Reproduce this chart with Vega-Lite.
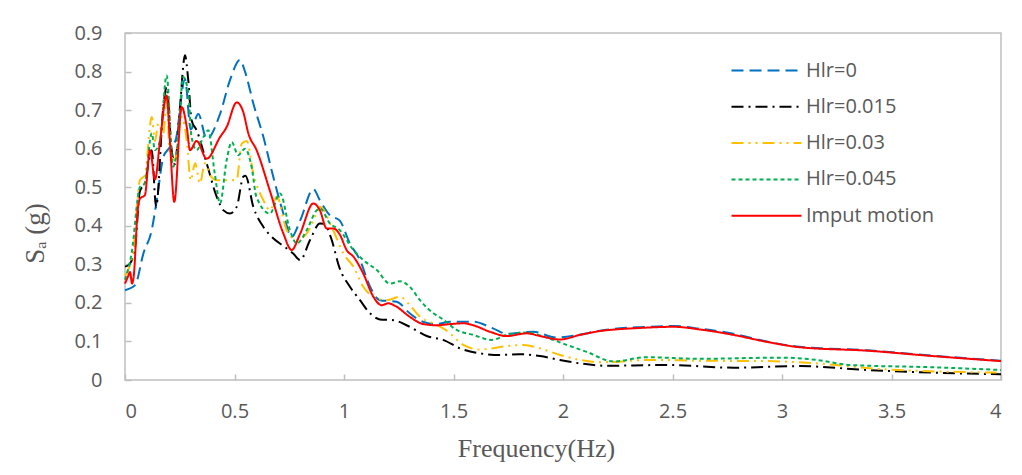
{
  "$schema": "https://vega.github.io/schema/vega-lite/v6.json",
  "autosize": "none",
  "width": 876,
  "height": 347,
  "padding": {"left": 125, "top": 33, "right": 21, "bottom": 95},
  "background": "white",
  "config": {
    "view": {"stroke": "#BFBFBF", "strokeWidth": 1.5},
    "axis": {"grid": false, "domain": false, "labelFont": "Open Sans", "labelFontSize": 20, "labelColor": "#595959", "tickColor": "#BFBFBF", "tickWidth": 1.5, "titleColor": "#595959", "titleFont": "Liberation Serif", "titleFontWeight": "normal"}
  },
  "data": {"values": [
    {"s":"Hlr=0","f":0,"v":0.233},{"s":"Hlr=0","f":0.046,"v":0.246},{"s":"Hlr=0","f":0.084,"v":0.328},{"s":"Hlr=0","f":0.122,"v":0.389},{"s":"Hlr=0","f":0.145,"v":0.466},{"s":"Hlr=0","f":0.175,"v":0.578},{"s":"Hlr=0","f":0.2,"v":0.6},{"s":"Hlr=0","f":0.23,"v":0.62},{"s":"Hlr=0","f":0.274,"v":0.78},{"s":"Hlr=0","f":0.3,"v":0.65},{"s":"Hlr=0","f":0.335,"v":0.69},{"s":"Hlr=0","f":0.373,"v":0.625},{"s":"Hlr=0","f":0.434,"v":0.69},{"s":"Hlr=0","f":0.479,"v":0.777},{"s":"Hlr=0","f":0.525,"v":0.83},{"s":"Hlr=0","f":0.548,"v":0.8},{"s":"Hlr=0","f":0.586,"v":0.717},{"s":"Hlr=0","f":0.632,"v":0.63},{"s":"Hlr=0","f":0.677,"v":0.527},{"s":"Hlr=0","f":0.723,"v":0.432},{"s":"Hlr=0","f":0.761,"v":0.371},{"s":"Hlr=0","f":0.8,"v":0.414},{"s":"Hlr=0","f":0.86,"v":0.495},{"s":"Hlr=0","f":0.89,"v":0.466},{"s":"Hlr=0","f":0.936,"v":0.427},{"s":"Hlr=0","f":0.98,"v":0.414},{"s":"Hlr=0","f":1.027,"v":0.354},{"s":"Hlr=0","f":1.073,"v":0.311},{"s":"Hlr=0","f":1.119,"v":0.242},{"s":"Hlr=0","f":1.164,"v":0.207},{"s":"Hlr=0","f":1.24,"v":0.203},{"s":"Hlr=0","f":1.3,"v":0.173},{"s":"Hlr=0","f":1.36,"v":0.151},{"s":"Hlr=0","f":1.42,"v":0.145},{"s":"Hlr=0","f":1.484,"v":0.151},{"s":"Hlr=0","f":1.59,"v":0.151},{"s":"Hlr=0","f":1.68,"v":0.134},{"s":"Hlr=0","f":1.743,"v":0.12},{"s":"Hlr=0","f":1.864,"v":0.125},{"s":"Hlr=0","f":1.97,"v":0.11},{"s":"Hlr=0","f":2.078,"v":0.118},{"s":"Hlr=0","f":2.169,"v":0.128},{"s":"Hlr=0","f":2.26,"v":0.134},{"s":"Hlr=0","f":2.352,"v":0.137},{"s":"Hlr=0","f":2.504,"v":0.14},{"s":"Hlr=0","f":2.626,"v":0.133},{"s":"Hlr=0","f":2.778,"v":0.12},{"s":"Hlr=0","f":2.93,"v":0.1},{"s":"Hlr=0","f":3.08,"v":0.086},{"s":"Hlr=0","f":3.39,"v":0.077},{"s":"Hlr=0","f":3.69,"v":0.063},{"s":"Hlr=0","f":4,"v":0.05},

    {"s":"Hlr=0.015","f":0,"v":0.294},{"s":"Hlr=0.015","f":0.02,"v":0.3},{"s":"Hlr=0.015","f":0.046,"v":0.345},{"s":"Hlr=0.015","f":0.068,"v":0.49},{"s":"Hlr=0.015","f":0.09,"v":0.51},{"s":"Hlr=0.015","f":0.122,"v":0.596},{"s":"Hlr=0.015","f":0.142,"v":0.449},{"s":"Hlr=0.015","f":0.175,"v":0.708},{"s":"Hlr=0.015","f":0.19,"v":0.76},{"s":"Hlr=0.015","f":0.213,"v":0.596},{"s":"Hlr=0.015","f":0.228,"v":0.56},{"s":"Hlr=0.015","f":0.251,"v":0.708},{"s":"Hlr=0.015","f":0.274,"v":0.842},{"s":"Hlr=0.015","f":0.289,"v":0.777},{"s":"Hlr=0.015","f":0.304,"v":0.674},{"s":"Hlr=0.015","f":0.327,"v":0.648},{"s":"Hlr=0.015","f":0.373,"v":0.562},{"s":"Hlr=0.015","f":0.419,"v":0.475},{"s":"Hlr=0.015","f":0.45,"v":0.44},{"s":"Hlr=0.015","f":0.479,"v":0.432},{"s":"Hlr=0.015","f":0.51,"v":0.449},{"s":"Hlr=0.015","f":0.54,"v":0.527},{"s":"Hlr=0.015","f":0.55,"v":0.53},{"s":"Hlr=0.015","f":0.586,"v":0.449},{"s":"Hlr=0.015","f":0.632,"v":0.397},{"s":"Hlr=0.015","f":0.67,"v":0.371},{"s":"Hlr=0.015","f":0.73,"v":0.345},{"s":"Hlr=0.015","f":0.768,"v":0.328},{"s":"Hlr=0.015","f":0.8,"v":0.311},{"s":"Hlr=0.015","f":0.845,"v":0.363},{"s":"Hlr=0.015","f":0.89,"v":0.406},{"s":"Hlr=0.015","f":0.91,"v":0.405},{"s":"Hlr=0.015","f":0.94,"v":0.37},{"s":"Hlr=0.015","f":0.98,"v":0.29},{"s":"Hlr=0.015","f":1.027,"v":0.242},{"s":"Hlr=0.015","f":1.073,"v":0.207},{"s":"Hlr=0.015","f":1.119,"v":0.173},{"s":"Hlr=0.015","f":1.164,"v":0.157},{"s":"Hlr=0.015","f":1.225,"v":0.155},{"s":"Hlr=0.015","f":1.3,"v":0.138},{"s":"Hlr=0.015","f":1.378,"v":0.114},{"s":"Hlr=0.015","f":1.453,"v":0.104},{"s":"Hlr=0.015","f":1.53,"v":0.082},{"s":"Hlr=0.015","f":1.62,"v":0.069},{"s":"Hlr=0.015","f":1.712,"v":0.065},{"s":"Hlr=0.015","f":1.8,"v":0.067},{"s":"Hlr=0.015","f":1.895,"v":0.062},{"s":"Hlr=0.015","f":1.986,"v":0.052},{"s":"Hlr=0.015","f":2.078,"v":0.043},{"s":"Hlr=0.015","f":2.2,"v":0.037},{"s":"Hlr=0.015","f":2.47,"v":0.039},{"s":"Hlr=0.015","f":2.78,"v":0.032},{"s":"Hlr=0.015","f":3.08,"v":0.036},{"s":"Hlr=0.015","f":3.39,"v":0.026},{"s":"Hlr=0.015","f":3.69,"v":0.019},{"s":"Hlr=0.015","f":4,"v":0.015},

    {"s":"Hlr=0.03","f":0,"v":0.27},{"s":"Hlr=0.03","f":0.038,"v":0.337},{"s":"Hlr=0.03","f":0.068,"v":0.518},{"s":"Hlr=0.03","f":0.09,"v":0.53},{"s":"Hlr=0.03","f":0.122,"v":0.682},{"s":"Hlr=0.03","f":0.137,"v":0.62},{"s":"Hlr=0.03","f":0.152,"v":0.665},{"s":"Hlr=0.03","f":0.175,"v":0.64},{"s":"Hlr=0.03","f":0.19,"v":0.73},{"s":"Hlr=0.03","f":0.205,"v":0.587},{"s":"Hlr=0.03","f":0.228,"v":0.57},{"s":"Hlr=0.03","f":0.259,"v":0.682},{"s":"Hlr=0.03","f":0.282,"v":0.62},{"s":"Hlr=0.03","f":0.3,"v":0.518},{"s":"Hlr=0.03","f":0.32,"v":0.562},{"s":"Hlr=0.03","f":0.342,"v":0.51},{"s":"Hlr=0.03","f":0.365,"v":0.562},{"s":"Hlr=0.03","f":0.39,"v":0.53},{"s":"Hlr=0.03","f":0.419,"v":0.518},{"s":"Hlr=0.03","f":0.479,"v":0.518},{"s":"Hlr=0.03","f":0.51,"v":0.52},{"s":"Hlr=0.03","f":0.533,"v":0.613},{"s":"Hlr=0.03","f":0.556,"v":0.62},{"s":"Hlr=0.03","f":0.586,"v":0.535},{"s":"Hlr=0.03","f":0.632,"v":0.466},{"s":"Hlr=0.03","f":0.662,"v":0.44},{"s":"Hlr=0.03","f":0.693,"v":0.475},{"s":"Hlr=0.03","f":0.738,"v":0.389},{"s":"Hlr=0.03","f":0.784,"v":0.363},{"s":"Hlr=0.03","f":0.83,"v":0.38},{"s":"Hlr=0.03","f":0.875,"v":0.432},{"s":"Hlr=0.03","f":0.89,"v":0.449},{"s":"Hlr=0.03","f":0.95,"v":0.389},{"s":"Hlr=0.03","f":0.997,"v":0.328},{"s":"Hlr=0.03","f":1.043,"v":0.294},{"s":"Hlr=0.03","f":1.088,"v":0.242},{"s":"Hlr=0.03","f":1.134,"v":0.216},{"s":"Hlr=0.03","f":1.195,"v":0.207},{"s":"Hlr=0.03","f":1.256,"v":0.216},{"s":"Hlr=0.03","f":1.3,"v":0.194},{"s":"Hlr=0.03","f":1.347,"v":0.164},{"s":"Hlr=0.03","f":1.408,"v":0.147},{"s":"Hlr=0.03","f":1.469,"v":0.128},{"s":"Hlr=0.03","f":1.545,"v":0.091},{"s":"Hlr=0.03","f":1.62,"v":0.079},{"s":"Hlr=0.03","f":1.743,"v":0.088},{"s":"Hlr=0.03","f":1.82,"v":0.091},{"s":"Hlr=0.03","f":1.895,"v":0.082},{"s":"Hlr=0.03","f":1.986,"v":0.065},{"s":"Hlr=0.03","f":2.078,"v":0.052},{"s":"Hlr=0.03","f":2.169,"v":0.046},{"s":"Hlr=0.03","f":2.4,"v":0.052},{"s":"Hlr=0.03","f":2.626,"v":0.05},{"s":"Hlr=0.03","f":2.93,"v":0.049},{"s":"Hlr=0.03","f":3.16,"v":0.043},{"s":"Hlr=0.03","f":3.46,"v":0.028},{"s":"Hlr=0.03","f":4,"v":0.019},

    {"s":"Hlr=0.045","f":0,"v":0.26},{"s":"Hlr=0.045","f":0.03,"v":0.328},{"s":"Hlr=0.045","f":0.068,"v":0.5},{"s":"Hlr=0.045","f":0.09,"v":0.51},{"s":"Hlr=0.045","f":0.122,"v":0.64},{"s":"Hlr=0.045","f":0.137,"v":0.596},{"s":"Hlr=0.045","f":0.16,"v":0.62},{"s":"Hlr=0.045","f":0.19,"v":0.79},{"s":"Hlr=0.045","f":0.22,"v":0.553},{"s":"Hlr=0.045","f":0.24,"v":0.61},{"s":"Hlr=0.045","f":0.266,"v":0.786},{"s":"Hlr=0.045","f":0.289,"v":0.743},{"s":"Hlr=0.045","f":0.304,"v":0.63},{"s":"Hlr=0.045","f":0.327,"v":0.596},{"s":"Hlr=0.045","f":0.358,"v":0.63},{"s":"Hlr=0.045","f":0.38,"v":0.648},{"s":"Hlr=0.045","f":0.41,"v":0.535},{"s":"Hlr=0.045","f":0.434,"v":0.458},{"s":"Hlr=0.045","f":0.464,"v":0.57},{"s":"Hlr=0.045","f":0.487,"v":0.617},{"s":"Hlr=0.045","f":0.517,"v":0.583},{"s":"Hlr=0.045","f":0.548,"v":0.6},{"s":"Hlr=0.045","f":0.578,"v":0.553},{"s":"Hlr=0.045","f":0.6,"v":0.475},{"s":"Hlr=0.045","f":0.662,"v":0.432},{"s":"Hlr=0.045","f":0.708,"v":0.484},{"s":"Hlr=0.045","f":0.753,"v":0.389},{"s":"Hlr=0.045","f":0.784,"v":0.354},{"s":"Hlr=0.045","f":0.83,"v":0.389},{"s":"Hlr=0.045","f":0.875,"v":0.44},{"s":"Hlr=0.045","f":0.89,"v":0.445},{"s":"Hlr=0.045","f":0.936,"v":0.406},{"s":"Hlr=0.045","f":0.98,"v":0.389},{"s":"Hlr=0.045","f":1.043,"v":0.337},{"s":"Hlr=0.045","f":1.088,"v":0.311},{"s":"Hlr=0.045","f":1.15,"v":0.285},{"s":"Hlr=0.045","f":1.21,"v":0.25},{"s":"Hlr=0.045","f":1.256,"v":0.256},{"s":"Hlr=0.045","f":1.3,"v":0.242},{"s":"Hlr=0.045","f":1.347,"v":0.207},{"s":"Hlr=0.045","f":1.408,"v":0.173},{"s":"Hlr=0.045","f":1.45,"v":0.158},{"s":"Hlr=0.045","f":1.514,"v":0.13},{"s":"Hlr=0.045","f":1.59,"v":0.117},{"s":"Hlr=0.045","f":1.674,"v":0.104},{"s":"Hlr=0.045","f":1.743,"v":0.117},{"s":"Hlr=0.045","f":1.834,"v":0.123},{"s":"Hlr=0.045","f":1.925,"v":0.11},{"s":"Hlr=0.045","f":2.017,"v":0.091},{"s":"Hlr=0.045","f":2.108,"v":0.073},{"s":"Hlr=0.045","f":2.23,"v":0.048},{"s":"Hlr=0.045","f":2.38,"v":0.059},{"s":"Hlr=0.045","f":2.626,"v":0.055},{"s":"Hlr=0.045","f":3,"v":0.058},{"s":"Hlr=0.045","f":3.16,"v":0.052},{"s":"Hlr=0.045","f":3.31,"v":0.039},{"s":"Hlr=0.045","f":3.69,"v":0.033},{"s":"Hlr=0.045","f":4,"v":0.026},

    {"s":"Imput motion","f":0,"v":0.25},{"s":"Imput motion","f":0.015,"v":0.27},{"s":"Imput motion","f":0.023,"v":0.28},{"s":"Imput motion","f":0.032,"v":0.25},{"s":"Imput motion","f":0.04,"v":0.27},{"s":"Imput motion","f":0.058,"v":0.44},{"s":"Imput motion","f":0.068,"v":0.47},{"s":"Imput motion","f":0.091,"v":0.48},{"s":"Imput motion","f":0.114,"v":0.596},{"s":"Imput motion","f":0.137,"v":0.52},{"s":"Imput motion","f":0.16,"v":0.62},{"s":"Imput motion","f":0.19,"v":0.738},{"s":"Imput motion","f":0.205,"v":0.62},{"s":"Imput motion","f":0.225,"v":0.462},{"s":"Imput motion","f":0.259,"v":0.708},{"s":"Imput motion","f":0.282,"v":0.656},{"s":"Imput motion","f":0.297,"v":0.596},{"s":"Imput motion","f":0.327,"v":0.62},{"s":"Imput motion","f":0.373,"v":0.574},{"s":"Imput motion","f":0.434,"v":0.63},{"s":"Imput motion","f":0.464,"v":0.656},{"s":"Imput motion","f":0.51,"v":0.72},{"s":"Imput motion","f":0.54,"v":0.695},{"s":"Imput motion","f":0.563,"v":0.64},{"s":"Imput motion","f":0.601,"v":0.596},{"s":"Imput motion","f":0.662,"v":0.49},{"s":"Imput motion","f":0.723,"v":0.38},{"s":"Imput motion","f":0.761,"v":0.337},{"s":"Imput motion","f":0.8,"v":0.38},{"s":"Imput motion","f":0.86,"v":0.458},{"s":"Imput motion","f":0.89,"v":0.44},{"s":"Imput motion","f":0.921,"v":0.393},{"s":"Imput motion","f":0.951,"v":0.393},{"s":"Imput motion","f":0.982,"v":0.376},{"s":"Imput motion","f":1.012,"v":0.337},{"s":"Imput motion","f":1.043,"v":0.32},{"s":"Imput motion","f":1.088,"v":0.276},{"s":"Imput motion","f":1.134,"v":0.216},{"s":"Imput motion","f":1.172,"v":0.194},{"s":"Imput motion","f":1.202,"v":0.199},{"s":"Imput motion","f":1.24,"v":0.19},{"s":"Imput motion","f":1.3,"v":0.164},{"s":"Imput motion","f":1.362,"v":0.145},{"s":"Imput motion","f":1.423,"v":0.142},{"s":"Imput motion","f":1.484,"v":0.145},{"s":"Imput motion","f":1.545,"v":0.147},{"s":"Imput motion","f":1.59,"v":0.142},{"s":"Imput motion","f":1.667,"v":0.125},{"s":"Imput motion","f":1.743,"v":0.114},{"s":"Imput motion","f":1.834,"v":0.121},{"s":"Imput motion","f":1.895,"v":0.114},{"s":"Imput motion","f":1.986,"v":0.105},{"s":"Imput motion","f":2.078,"v":0.117},{"s":"Imput motion","f":2.169,"v":0.127},{"s":"Imput motion","f":2.26,"v":0.132},{"s":"Imput motion","f":2.352,"v":0.135},{"s":"Imput motion","f":2.504,"v":0.138},{"s":"Imput motion","f":2.626,"v":0.131},{"s":"Imput motion","f":2.778,"v":0.117},{"s":"Imput motion","f":2.93,"v":0.099},{"s":"Imput motion","f":3.08,"v":0.085},{"s":"Imput motion","f":3.39,"v":0.076},{"s":"Imput motion","f":3.69,"v":0.062},{"s":"Imput motion","f":4,"v":0.049}
  ]},
  "mark": {"type": "line", "interpolate": "monotone"},
  "encoding": {
    "x": {"field": "f", "type": "quantitative", "scale": {"domain": [0, 4], "nice": false},
      "axis": {"values": [0, 0.5, 1, 1.5, 2, 2.5, 3, 3.5, 4], "format": "~g", "tickSize": -6, "labelPadding": 27, "title": "Frequency(Hz)", "titleFontSize": 26, "titlePadding": 14, "titleX": 411}},
    "y": {"field": "v", "type": "quantitative", "scale": {"domain": [0, 0.9], "nice": false},
      "axis": {"values": [0, 0.1, 0.2, 0.3, 0.4, 0.5, 0.6, 0.7, 0.8, 0.9], "format": "~g", "tickSize": -6, "labelPadding": 29, "title": "Sₐ (g)", "titleFontSize": 27, "titleX": -76, "titleY": 200}},
    "color": {"field": "s", "type": "nominal", "title": null,
      "scale": {"domain": ["Hlr=0", "Hlr=0.015", "Hlr=0.03", "Hlr=0.045", "Imput motion"], "range": ["#0070C0", "#000000", "#FFC000", "#00B050", "#FF0000"]},
      "legend": {"orient": "none", "legendX": 623, "legendY": 19, "symbolType": "M-2,0L2,0", "symbolSize": 1225, "labelFont": "Open Sans", "labelFontSize": 20, "labelColor": "#595959", "rowPadding": 7.3, "labelOffset": 21, "padding": 0}},
    "strokeDash": {"field": "s", "type": "nominal", "title": null,
      "scale": {"domain": ["Hlr=0", "Hlr=0.015", "Hlr=0.03", "Hlr=0.045", "Imput motion"], "range": [[12, 6], [12, 5, 2, 5], [12, 5, 2, 5, 2, 5], [4, 3], [1, 0]]}},
    "strokeWidth": {"field": "s", "type": "nominal", "title": null,
      "scale": {"domain": ["Hlr=0", "Hlr=0.015", "Hlr=0.03", "Hlr=0.045", "Imput motion"], "range": [2, 2, 2, 2, 3]}}
  }
}
